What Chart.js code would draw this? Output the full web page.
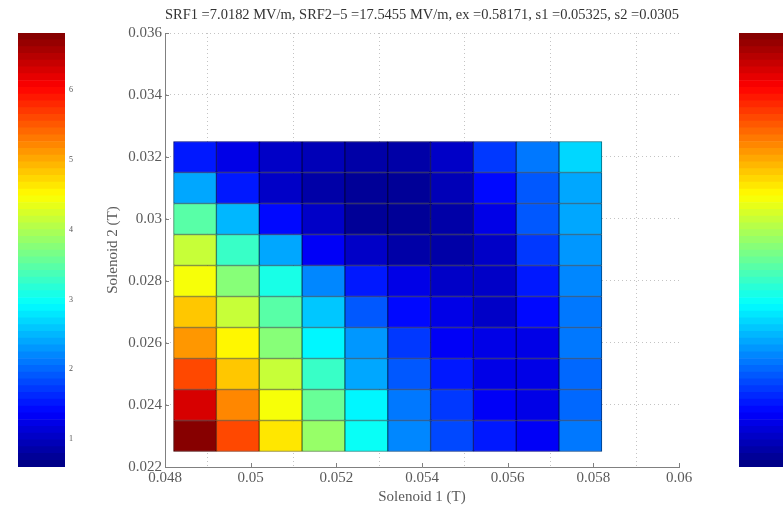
<!DOCTYPE html>
<html>
<head>
<meta charset="utf-8">
<script src="https://cdn.jsdelivr.net/npm/chart.js@4.4.1/dist/chart.umd.min.js"></script>
<style>
  html, body { margin: 0; padding: 0; background: #fff; }
  body { width: 783px; height: 506px; overflow: hidden; position: relative; }
  .box { position: absolute; top: 0; height: 506px; }
</style>
</head>
<body>
<div class="box" style="left:0;width:783px"><canvas id="mainChart"></canvas></div>
<div class="box" style="left:18px;width:70px"><canvas id="barLeft"></canvas></div>
<div class="box" style="left:739px;width:70px"><canvas id="barRight"></canvas></div>
<script>
const titleText = 'SRF1 =7.0182 MV/m, SRF2\u22125 =17.5455 MV/m, ex =0.58171, s1 =0.05325, s2 =0.0305';

// cell centres (T)
const solenoid1 = [0.0487, 0.0497, 0.0507, 0.0517, 0.0527, 0.0537, 0.0547, 0.0557, 0.0567, 0.0577];
const solenoid2 = [0.023, 0.024, 0.025, 0.026, 0.027, 0.028, 0.029, 0.030, 0.031, 0.032];

// one row per solenoid2 value, bottom to top
const row023 = [6.83, 5.65, 4.66, 3.85, 2.96, 2.24, 1.81, 1.50, 1.31, 2.06];
const row024 = [6.33, 5.22, 4.41, 3.61, 2.86, 2.12, 1.68, 1.37, 1.25, 1.99];
const row025 = [5.65, 4.78, 4.16, 3.30, 2.43, 1.87, 1.50, 1.25, 1.25, 1.99];
const row026 = [5.16, 4.51, 3.73, 2.86, 2.30, 1.68, 1.37, 1.19, 1.25, 2.06];
const row027 = [4.85, 4.10, 3.42, 2.61, 1.87, 1.41, 1.25, 1.06, 1.44, 2.12];
const row028 = [4.41, 3.73, 3.05, 2.24, 1.50, 1.19, 1.06, 1.00, 1.56, 2.24];
const row029 = [4.10, 3.23, 2.37, 1.31, 1.00, 0.88, 0.88, 1.06, 1.75, 2.30];
const row030 = [3.42, 2.49, 1.44, 1.00, 0.75, 0.75, 0.88, 1.25, 1.93, 2.43];
const row031 = [2.43, 1.50, 1.06, 0.88, 0.75, 0.75, 0.94, 1.41, 1.93, 2.43];
const row032 = [1.50, 1.25, 1.06, 0.94, 0.82, 0.82, 1.00, 1.68, 2.06, 2.68];
const rows = [row023, row024, row025, row026, row027, row028, row029, row030, row031, row032];

const xTicks = [0.048, 0.05, 0.052, 0.054, 0.056, 0.058, 0.06];
const xTickLabels = ['0.048', '0.05', '0.052', '0.054', '0.056', '0.058', '0.06'];
const yTicks = [0.022, 0.024, 0.026, 0.028, 0.03, 0.032, 0.034, 0.036];
const yTickLabels = ['0.022', '0.024', '0.026', '0.028', '0.03', '0.032', '0.034', '0.036'];

const colorMin = 0.6;
const colorMax = 6.82;
const colorLevels = 64;
const colorbarTicks = [1, 2, 3, 4, 5, 6];
const colorbarTickLabels = ['1', '2', '3', '4', '5', '6'];
const colorbarMarks = [6.45];

const serif = '"Liberation Serif", "DejaVu Serif", serif';

function clamp01(v) { return Math.max(0, Math.min(1, v)) }

function jetRgb(t) {
    return [
        clamp01(1.5 - Math.abs(4 * t - 3)),
        clamp01(1.5 - Math.abs(4 * t - 2)),
        clamp01(1.5 - Math.abs(4 * t - 1))
    ];
}

function toCss(rgb, f) {
    return 'rgb(' + rgb.map(c => Math.round(c * 255 * f)).join(',') + ')';
}

function jet(t) { return toCss(jetRgb(t), 1) }

function levelT(v) {
    let k = Math.floor((v - colorMin) / (colorMax - colorMin) * colorLevels);
    k = Math.max(0, Math.min(colorLevels - 1, k));
    return (k + 0.5) / colorLevels;
}

// build the cells for the floating bar chart
const rowStep = solenoid2[1] - solenoid2[0];
let cells = [];
rows.forEach(function (row, j) {
    row.forEach(function (v, i) {
        cells.push({ x: solenoid1[i], y: [solenoid2[j] - rowStep / 2, solenoid2[j] + rowStep / 2], v: v });
    });
});

const axisGrey = '#808080';
const tickGrey = '#5a5a5a';

// short matlab-style ticks pointing into the plot
const innerTicks = {
    id: 'innerTicks',
    afterDraw(chart) {
        const { ctx, chartArea, scales } = chart;
        ctx.save();
        ctx.strokeStyle = axisGrey;
        ctx.lineWidth = 1;
        ctx.beginPath();
        scales.x.ticks.forEach(t => {
            const px = Math.round(scales.x.getPixelForValue(t.value)) + 0.5;
            ctx.moveTo(px, chartArea.bottom); ctx.lineTo(px, chartArea.bottom - 4);
        });
        scales.y.ticks.forEach(t => {
            const py = Math.round(scales.y.getPixelForValue(t.value)) + 0.5;
            ctx.moveTo(chartArea.left, py); ctx.lineTo(chartArea.left + 4, py);
        });
        ctx.stroke();
        ctx.restore();
    }
};

new Chart(document.getElementById('mainChart'), {
    type: 'bar',
    data: {
        datasets: [{
            data: cells,
            backgroundColor: cells.map(c => jet(levelT(c.v))),
            borderColor: cells.map(c => toCss(jetRgb(levelT(c.v)), 0.5)),
            borderWidth: 1,
            borderSkipped: false,
            barPercentage: 1,
            categoryPercentage: 1
        }]
    },
    options: {
        responsive: true,
        maintainAspectRatio: false,
        animation: false,
        layout: { padding: { left: 100, right: 104, top: 0, bottom: 0 } },
        plugins: {
            legend: { display: false },
            tooltip: { enabled: false },
            title: {
                display: true,
                text: titleText,
                fullSize: false,
                color: '#333',
                font: { family: serif, size: 15, weight: 'normal' },
                padding: { top: 6, bottom: 9 }
            }
        },
        scales: {
            x: {
                type: 'linear',
                offset: false,
                min: 0.048,
                max: 0.06,
                afterBuildTicks: axis => { axis.ticks = xTicks.map(v => ({ value: v })) },
                afterFit: axis => { axis.height = 39 },
                ticks: {
                    color: tickGrey,
                    font: { family: serif, size: 15 },
                    padding: 2,
                    maxRotation: 0,
                    callback: (v, i) => xTickLabels[i]
                },
                grid: { color: '#c4c4c4', drawTicks: false },
                border: { color: axisGrey, dash: [1, 3] },
                title: {
                    display: true,
                    text: 'Solenoid 1 (T)',
                    color: tickGrey,
                    font: { family: serif, size: 15 },
                    padding: { top: 0, bottom: 0 }
                }
            },
            y: {
                type: 'linear',
                min: 0.022,
                max: 0.036,
                afterBuildTicks: axis => { axis.ticks = yTicks.map(v => ({ value: v })) },
                afterFit: axis => { axis.width = 65 },
                ticks: {
                    color: tickGrey,
                    font: { family: serif, size: 15 },
                    padding: 3,
                    callback: (v, i) => yTickLabels[i]
                },
                grid: { color: '#c4c4c4', drawTicks: false },
                border: { color: axisGrey, dash: [1, 3] },
                title: {
                    display: true,
                    text: 'Solenoid 2 (T)',
                    color: tickGrey,
                    font: { family: serif, size: 15 },
                    padding: { top: 4, bottom: 0 }
                }
            }
        }
    },
    plugins: [innerTicks]
});

function colorbarDatasets() {
    let sets = [];
    const step = (colorMax - colorMin) / colorLevels;
    for (let k = 0; k < colorLevels; k++) {
        sets.push({
            data: [[colorMin + k * step, colorMin + (k + 1) * step]],
            backgroundColor: jet((k + 0.5) / colorLevels),
            borderWidth: 0,
            grouped: false,
            barPercentage: 1,
            categoryPercentage: 1
        });
    }
    colorbarMarks.forEach(m => {
        sets.push({
            data: [[m - 0.015, m + 0.015]],
            backgroundColor: '#f0b060',
            borderWidth: 0,
            grouped: false,
            barPercentage: 0.92,
            categoryPercentage: 1
        });
    });
    return sets;
}

function setupColorbar(id) {
    new Chart(document.getElementById(id), {
        type: 'bar',
        data: { labels: [''], datasets: colorbarDatasets() },
        options: {
            responsive: true,
            maintainAspectRatio: false,
            animation: false,
            layout: { padding: { left: 0, right: 0, top: 33, bottom: 39 } },
            plugins: { legend: { display: false }, tooltip: { enabled: false } },
            scales: {
                x: { display: false },
                y: {
                    position: 'right',
                    min: colorMin,
                    max: colorMax,
                    afterBuildTicks: axis => { axis.ticks = colorbarTicks.map(v => ({ value: v })) },
                    afterFit: axis => { axis.width = 23 },
                    ticks: {
                        color: '#555',
                        font: { family: serif, size: 8 },
                        padding: 4,
                        autoSkip: false,
                        callback: (v, i) => colorbarTickLabels[i]
                    },
                    grid: { display: false, drawTicks: false },
                    border: { display: false }
                }
            }
        }
    });
}

setupColorbar('barLeft');
setupColorbar('barRight');
</script>
</body>
</html>
